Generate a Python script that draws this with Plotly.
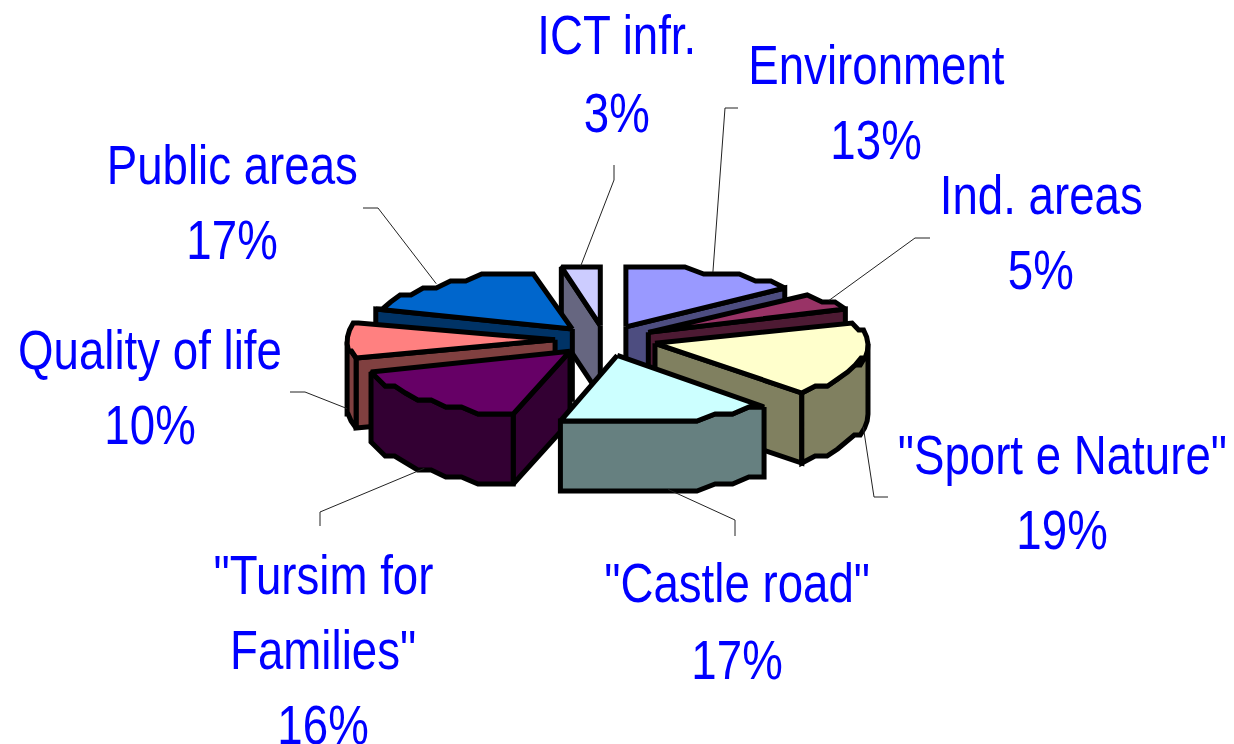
import numpy as np
import plotly.graph_objects as go

# ---- data (clockwise from 12 o'clock) ----
categories = ["Environment", "Ind. areas", '"Sport e Nature"', '"Castle road"',
              '"Tursim for<br>Families"', "Quality of life", "Public areas", "ICT infr."]
values = [13.4, 5.4, 19.1, 16.51, 15.9, 10.0, 16.7, 3.0]
top_colors = ["#9999FF", "#993366", "#FFFFCC", "#CCFFFF", "#660066", "#FF8080", "#0066CC", "#CCCCFF"]
wall_colors = ["#4D4D80", "#4D1A33", "#808060", "#668080", "#330033", "#804040", "#003366", "#666680"]

# ---- projection / layout constants (pixels in a 1234x744 frame) ----
PAGE_MARGIN = 8  # the browser's default body margin
CX, CY = 605, 340
RX_RIGHT, RX_LEFT = 213, 208
RY_BACK, RY_FRONT = 60, 66
EXPLODE = 0.24
DEPTH = 70
STEP = 7
draw_order = [7, 0, 6, 1, 5, 2, 4, 3]
label_xy = [(876, 65, 140), (1041, 195, 270), (1062, 455, 530), (737, 583, 660),
            (323, 575, 725), (150, 350, 425), (232, 165, 240), (617, 35, 113)]
label_second_line_y = {4: 650}
elbows = [[(725, 108), (738, 108)], [(915, 238), (930, 238)], [(874, 497), (888, 497)],
          [(735, 520), (735, 536)], [(320, 512), (320, 526)], [(305, 392), (290, 392)],
          [(378, 208), (363, 208)], [(614, 180), (614, 165)]]

cum = np.cumsum([0] + values) / sum(values) * 360.0


def ell(theta):
    t = np.radians(theta)
    s, c = np.sin(t), np.cos(t)
    return np.where(s >= 0, RX_RIGHT, RX_LEFT) * s, -np.where(c >= 0, RY_BACK, RY_FRONT) * c


def arc(a, b, apex):
    n = max(2, int(abs(b - a) / 5) + 1)
    th = np.linspace(a, b, n)
    x, y = ell(th)
    return apex[0] + x, np.round((apex[1] + y) / STEP) * STEP + 1


fig = go.Figure()


def poly(x, y, fill):
    fig.add_trace(go.Scatter(x=list(x) + [x[0]], y=list(y) + [y[0]], mode="lines", fill="toself",
                             fillcolor=fill, line=dict(color="black", width=5),
                             hoverinfo="skip", showlegend=False))


for i in draw_order:
    a, b = cum[i], cum[i + 1]
    mid = (a + b) / 2
    ex, ey = ell(mid)
    apex = (CX + EXPLODE * float(ex), CY + EXPLODE * float(ey))
    ax, ay = arc(a, b, apex)
    mx, my = float(ex), float(ey)
    for th, k in ((a, 0), (b, -1)):
        px, py = ell(th)
        px, py = float(px), float(py)
        px_abs, py_abs = float(ax[k]), float(ay[k])
        # a radial wall shows when the wedge body lies above its edge on screen
        line_y = py * (mx / px) if abs(px) > 1e-6 else None
        visible = (line_y is not None) and (my < line_y)
        if visible:
            poly([apex[0], px_abs, px_abs, apex[0]],
                 [apex[1], py_abs, py_abs + DEPTH, apex[1] + DEPTH], wall_colors[i])
    lo, hi = max(a, 90), min(b, 270)
    if lo < hi:
        wx, wy = arc(lo, hi, apex)
        poly(list(wx) + list(wx[::-1]), list(wy) + list(wy[::-1] + DEPTH), wall_colors[i])
    poly([apex[0]] + list(ax), [apex[1]] + list(ay), top_colors[i])

    # leader line from the wedge's rim to its elbow
    sx, sy = apex[0] + mx, apex[1] + my + (DEPTH if np.cos(np.radians(mid)) < 0.1 else 0)
    pts = [(sx, sy)] + elbows[i]
    fig.add_trace(go.Scatter(x=[p[0] for p in pts], y=[p[1] for p in pts], mode="lines",
                             line=dict(color="#222222", width=1), hoverinfo="skip", showlegend=False))

annotations = []
FONT = dict(family="Liberation Sans, Arial", size=55, color="#0000FF")
for i, name in enumerate(categories):
    x, y1, y2 = label_xy[i]
    lines = name.split("<br>")
    ys = [y1] + ([label_second_line_y[i]] if i in label_second_line_y else [])
    for t, yy in zip(lines, ys):
        annotations.append(dict(x=x, y=yy, text=t, showarrow=False, xanchor="center", yanchor="middle",
                                font=FONT, xref="x", yref="y"))
    annotations.append(dict(x=x, y=y2, text=f"{round(values[i])}%", showarrow=False, xanchor="center",
                            yanchor="middle", font=FONT, xref="x", yref="y"))

fig.update_layout(width=1234 - PAGE_MARGIN, height=744 - PAGE_MARGIN, margin=dict(l=0, r=0, t=0, b=0),
                  paper_bgcolor="white", plot_bgcolor="white", annotations=annotations,
                  xaxis=dict(range=[PAGE_MARGIN, 1234], visible=False, fixedrange=True),
                  yaxis=dict(range=[744, PAGE_MARGIN], visible=False, fixedrange=True))

# the reference's lettering is condensed: narrow each label about its own centre
narrow_js = """
document.querySelectorAll('.annotation-text').forEach(function (t) {
  var b = t.getBBox(), c = b.x + b.width / 2;
  t.setAttribute('transform', 'translate(' + c + ',0) scale(0.83,1) translate(' + (-c) + ',0)');
});
"""
fig.write_html("out.html", config=dict(displayModeBar=False), post_script=narrow_js)
